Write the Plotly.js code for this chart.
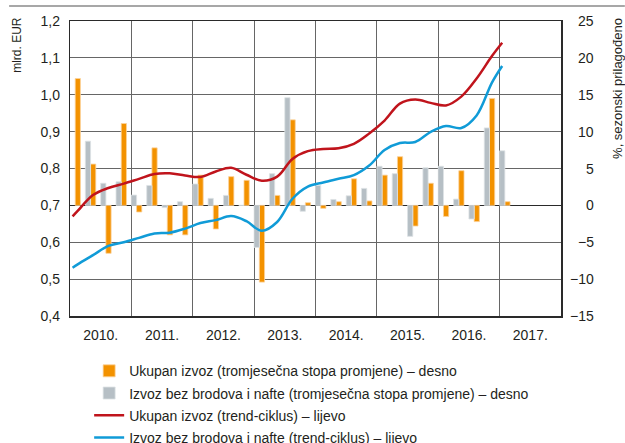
<!DOCTYPE html>
<html>
<head>
<meta charset="utf-8">
<script src="https://cdn.plot.ly/plotly-3.0.1.min.js"></script>
<style>
  html, body { margin: 0; padding: 0; background: #fff; }
  #chart { width: 625px; height: 443px; }
</style>
</head>
<body>
<div id="chart"></div>
<script>
// ---- data ----
const quarters = ['2010Q1','2010Q2','2010Q3','2010Q4',
                  '2011Q1','2011Q2','2011Q3','2011Q4',
                  '2012Q1','2012Q2','2012Q3','2012Q4',
                  '2013Q1','2013Q2','2013Q3','2013Q4',
                  '2014Q1','2014Q2','2014Q3','2014Q4',
                  '2015Q1','2015Q2','2015Q3','2015Q4',
                  '2016Q1','2016Q2','2016Q3','2016Q4',
                  '2017Q1'];
// Ukupan izvoz (tromjesečna stopa promjene), %
const totalExportRate = [17.2, 5.6, -6.5, 11.1,
                         -0.9, 7.8, -4.0, -4.0,
                         4.1, -3.2, 3.9, 3.4,
                         -10.4, 1.35, 11.6, 0.36,
                         -0.4, 0.5, 3.6, 0.6,
                         4.1, 6.6, -2.8, 3.0,
                         -1.5, 4.7, -2.2, 14.5,
                         0.5];
// Izvoz bez brodova i nafte (tromjesečna stopa promjene), %
const exShipsOilRate = [null, 8.7, 3.0, 3.2,
                        1.4, 2.7, -0.3, 0.5,
                        2.9, 0.95, 1.35, 0,
                        -5.7, 4.3, 14.6, -0.8,
                        2.7, 0.8, 1.3, 2.3,
                        5.3, 4.3, -4.2, 5.1,
                        5.3, 0.85, -1.85, 10.5,
                        7.4];
// trend-ciklus, mlrd. EUR
const trendMonths = ['2010-01','2010-02','2010-05','2010-08','2010-11',
                     '2011-02','2011-05','2011-08','2011-11',
                     '2012-02','2012-05','2012-08','2012-11',
                     '2013-02','2013-05','2013-08','2013-11',
                     '2014-02','2014-05','2014-08','2014-11',
                     '2015-02','2015-05','2015-08','2015-11',
                     '2016-02','2016-05','2016-08','2016-11',
                     '2017-01'];
const totalTrend = [0.670, 0.685, 0.728, 0.747, 0.759,
                    0.772, 0.785, 0.787, 0.781,
                    0.777, 0.792, 0.802, 0.783,
                    0.767, 0.778, 0.826, 0.847,
                    0.853, 0.855, 0.867, 0.895,
                    0.930, 0.976, 0.987, 0.978,
                    0.971, 0.995, 1.044, 1.105,
                    1.141];
const exShipsOilTrend = [0.531, 0.540, 0.565, 0.590, 0.600,
                         0.612, 0.624, 0.626, 0.637,
                         0.652, 0.660, 0.671, 0.657,
                         0.631, 0.655, 0.718, 0.751,
                         0.762, 0.772, 0.782, 0.808,
                         0.850, 0.869, 0.872, 0.899,
                         0.915, 0.910, 0.944, 1.033,
                         1.078];
const years = [2010, 2011, 2012, 2013, 2014, 2015, 2016, 2017];
const yearLabels = ['2010.', '2011.', '2012.', '2013.', '2014.', '2015.', '2016.', '2017.'];
const rightTickVals = [-15, -10, -5, 0, 5, 10, 15, 20, 25];
const rightTickText = ['\u221215', '\u221210', '\u22125', '0', '5', '10', '15', '20', '25'];
const leftTickVals = [0.4, 0.5, 0.6, 0.7, 0.8, 0.9, 1.0, 1.1, 1.2];

const seriesNames = [
  'Ukupan izvoz (tromjesečna stopa promjene) – desno',
  'Izvoz bez brodova i nafte (tromjesečna stopa promjene) – desno',
  'Ukupan izvoz (trend-ciklus) – lijevo',
  'Izvoz bez brodova i nafte (trend-ciklus) – lijevo'
];

// ---- helpers ----
const qx = q => { const y = +q.slice(0, 4), n = +q.slice(5); return y + (n - 1) / 4; };
const mx = m => { const y = +m.slice(0, 4), n = +m.slice(5); return y + (n - 0.5) / 12; };

const FONT = 'Liberation Sans, Arial, Helvetica, sans-serif';
const TXT = '#231f20';
const BW = 0.085;

const traces = [
  { type: 'bar', name: seriesNames[0], legendgroup: 'a', x: quarters.map(qx), y: totalExportRate,
    offset: BW, width: BW, yaxis: 'y',
    marker: { color: '#f39200', line: { color: '#fbd29a', width: 0.8 } }, hoverinfo: 'y' },
  { type: 'bar', name: seriesNames[1], legendgroup: 'b', x: quarters.map(qx), y: exShipsOilRate,
    offset: 0, width: BW, yaxis: 'y',
    marker: { color: '#b6bfc5', line: { color: '#dde2e5', width: 0.8 } }, hoverinfo: 'y' },
  { type: 'scatter', mode: 'lines', name: seriesNames[2], legendgroup: 'c', x: trendMonths.map(mx), y: totalTrend,
    yaxis: 'y2', line: { color: '#c0141c', width: 2.5, shape: 'spline', smoothing: 1 } },
  { type: 'scatter', mode: 'lines', name: seriesNames[3], legendgroup: 'd', x: trendMonths.map(mx), y: exShipsOilTrend,
    yaxis: 'y2', line: { color: '#109bd7', width: 2.5, shape: 'spline', smoothing: 1 } }
];

const annotations = rightTickVals.map((v, i) => ({
  xref: 'paper', yref: 'y', x: 1, y: v, xanchor: 'right', yanchor: 'middle',
  xshift: 35, text: rightTickText[i], showarrow: false,
  font: { family: FONT, size: 14, color: TXT }
}));
annotations.push({
  xref: 'paper', yref: 'paper', x: -0.108, y: 0.919, xanchor: 'center', yanchor: 'middle',
  text: 'mlrd. EUR', textangle: -90, showarrow: false,
  font: { family: FONT, size: 12, color: TXT }
});
annotations.push({
  xref: 'paper', yref: 'paper', x: 1.116, y: 0.773, xanchor: 'center', yanchor: 'middle',
  text: '%, sezonski prilagođeno', textangle: -90, showarrow: false,
  font: { family: FONT, size: 13, color: TXT }
});

const layout = {
  width: 625, height: 443,
  margin: { l: 70, r: 64, t: 21, b: 127, autoexpand: false },
  paper_bgcolor: '#fff', plot_bgcolor: '#fff',
  separators: ', ',
  font: { family: FONT, size: 14, color: TXT },
  barmode: 'overlay',
  showlegend: true,
  legend: {
    orientation: 'v', x: 0.039, y: -0.133, xanchor: 'left', yanchor: 'top',
    traceorder: 'grouped', tracegroupgap: 1,
    font: { family: FONT, size: 14, color: TXT }, bgcolor: 'rgba(0,0,0,0)'
  },
  xaxis: {
    range: [2010, 2018], showgrid: false, zeroline: false,
    tickmode: 'array', tickvals: years.map(y => y + 0.5), ticktext: yearLabels,
    ticks: '', ticklabelstandoff: 6,
    showline: true, mirror: true, linecolor: '#2a2a2a', linewidth: 1.5,
    minor: { tickmode: 'array', tickvals: years.slice(1), showgrid: true,
             gridcolor: '#666666', gridwidth: 1.2, ticks: '' },
    tickfont: { family: FONT, size: 14, color: TXT }
  },
  yaxis: {
    range: [-15, 25], side: 'right', tickmode: 'array', tickvals: rightTickVals,
    showticklabels: false, ticks: '',
    showgrid: true, gridcolor: '#666666', gridwidth: 1.2,
    zeroline: true, zerolinecolor: '#2a2a2a', zerolinewidth: 1.3,
    showline: true, mirror: true, linecolor: '#2a2a2a', linewidth: 1.5
  },
  yaxis2: {
    range: [0.4, 1.2], overlaying: 'y', side: 'left',
    tickmode: 'array', tickvals: leftTickVals, tickformat: '.1f',
    showgrid: false, zeroline: false, ticks: '', ticklabelstandoff: 9,
    tickfont: { family: FONT, size: 14, color: TXT }
  },
  shapes: [{
    type: 'line', xref: 'paper', yref: 'paper',
    x0: -0.124, x1: 1.13, y0: 1.0508, y1: 1.0508,
    line: { color: '#8a8a8a', width: 1.5 }
  }],
  annotations: annotations
};

Plotly.newPlot('chart', traces, layout, { displayModeBar: false, staticPlot: true });
</script>
</body>
</html>
